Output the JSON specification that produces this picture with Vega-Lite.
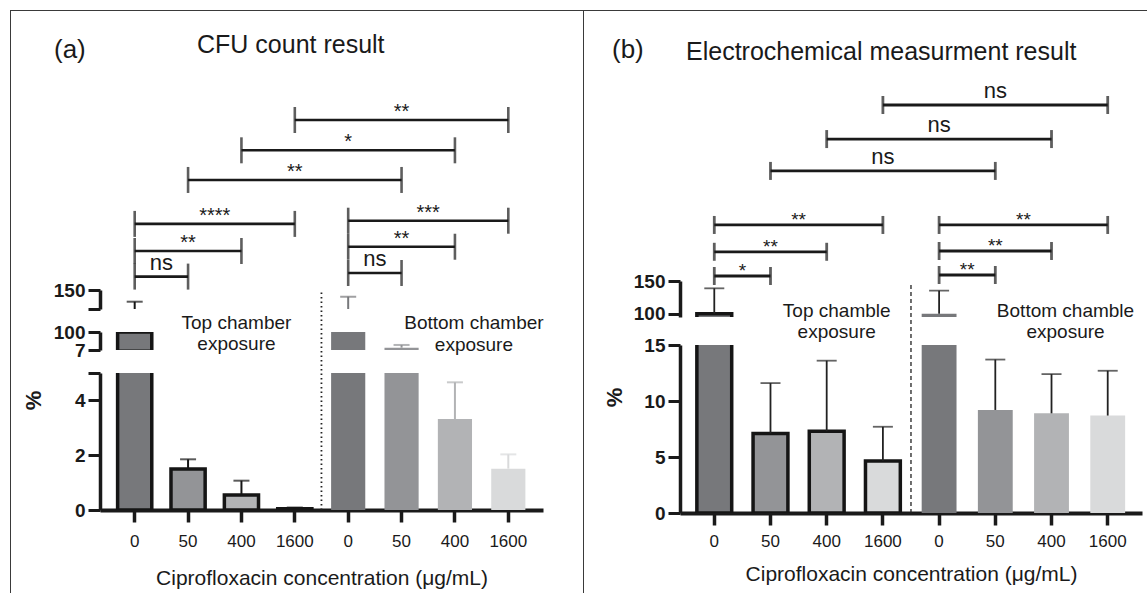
{
  "$schema": "https://vega.github.io/schema/vega-lite/v6.json",
  "padding": {"left": 10, "top": 10, "right": 0, "bottom": 0},
  "background": "white",
  "config": {
    "font": "Liberation Sans",
    "view": {"stroke": null},
    "axis": {"grid": false, "domainColor": "#1a1a1a", "domainWidth": 3.5, "tickColor": "#1a1a1a", "tickWidth": 3, "tickSize": 12, "labelColor": "#1a1a1a", "labelFont": "Liberation Sans", "labelOverlap": false, "labelBound": false, "labelFlush": false, "titleColor": "#1a1a1a", "titleFont": "Liberation Sans"},
    "axisY": {"labelFontSize": 19, "labelFontWeight": "bold", "labelPadding": 3},
    "axisX": {"labelFontSize": 17, "labelFontWeight": "normal", "labelAngle": 0, "labelPadding": 11, "titleFontSize": 21, "titleFontWeight": "normal", "titlePadding": 14, "tickWidth": 3.5},
    "title": {"font": "Liberation Sans", "fontWeight": "normal", "color": "#1a1a1a"},
    "text": {"font": "Liberation Sans", "color": "#1a1a1a"}
  },
  "datasets": {
    "barsA": [
      {"chamber": "Top", "conc": "0", "bar": "Top 0", "mean": 100, "upper": 134.6},
      {"chamber": "Top", "conc": "50", "bar": "Top 50", "mean": 1.5, "upper": 1.85},
      {"chamber": "Top", "conc": "400", "bar": "Top 400", "mean": 0.55, "upper": 1.07},
      {"chamber": "Top", "conc": "1600", "bar": "Top 1600", "mean": 0.05, "upper": 0.09},
      {"chamber": "Bottom", "conc": "0", "bar": "Bottom 0", "mean": 100, "upper": 141.2},
      {"chamber": "Bottom", "conc": "50", "bar": "Bottom 50", "mean": 19, "upper": 33},
      {"chamber": "Bottom", "conc": "400", "bar": "Bottom 400", "mean": 3.32, "upper": 4.66},
      {"chamber": "Bottom", "conc": "1600", "bar": "Bottom 1600", "mean": 1.51, "upper": 2.03}
    ],
    "barsB": [
      {"chamber": "Top", "conc": "0", "bar": "Top 0", "mean": 100, "upper": 138.8},
      {"chamber": "Top", "conc": "50", "bar": "Top 50", "mean": 7.1, "upper": 11.6},
      {"chamber": "Top", "conc": "400", "bar": "Top 400", "mean": 7.3, "upper": 13.6},
      {"chamber": "Top", "conc": "1600", "bar": "Top 1600", "mean": 4.65, "upper": 7.7},
      {"chamber": "Bottom", "conc": "0", "bar": "Bottom 0", "mean": 100, "upper": 135.2},
      {"chamber": "Bottom", "conc": "50", "bar": "Bottom 50", "mean": 9.2, "upper": 13.7},
      {"chamber": "Bottom", "conc": "400", "bar": "Bottom 400", "mean": 8.9, "upper": 12.4},
      {"chamber": "Bottom", "conc": "1600", "bar": "Bottom 1600", "mean": 8.7, "upper": 12.7}
    ],
    "bracketsA": [
      {"from": "Top 0", "to": "Top 50", "level": 0.55, "label": "ns", "at": "Top 0", "onBar": false},
      {"from": "Top 0", "to": "Top 400", "level": 1.75, "label": "**", "at": "Top 50", "onBar": true},
      {"from": "Top 0", "to": "Top 1600", "level": 3.02, "label": "****", "at": "Top 50", "onBar": false},
      {"from": "Bottom 0", "to": "Bottom 50", "level": 0.72, "label": "ns", "at": "Bottom 0", "onBar": false},
      {"from": "Bottom 0", "to": "Bottom 400", "level": 1.95, "label": "**", "at": "Bottom 50", "onBar": true},
      {"from": "Bottom 0", "to": "Bottom 1600", "level": 3.17, "label": "***", "at": "Bottom 50", "onBar": false},
      {"from": "Top 50", "to": "Bottom 50", "level": 5.08, "label": "**", "at": "Top 1600", "onBar": true},
      {"from": "Top 400", "to": "Bottom 400", "level": 6.47, "label": "*", "at": "Bottom 0", "onBar": true},
      {"from": "Top 1600", "to": "Bottom 1600", "level": 7.89, "label": "**", "at": "Bottom 50", "onBar": true}
    ],
    "bracketsB": [
      {"from": "Top 0", "to": "Top 50", "level": 0.86, "label": "*", "at": "Top 0", "onBar": false},
      {"from": "Top 0", "to": "Top 400", "level": 2.06, "label": "**", "at": "Top 50", "onBar": true},
      {"from": "Top 0", "to": "Top 1600", "level": 3.39, "label": "**", "at": "Top 50", "onBar": false},
      {"from": "Bottom 0", "to": "Bottom 50", "level": 0.91, "label": "**", "at": "Bottom 0", "onBar": false},
      {"from": "Bottom 0", "to": "Bottom 400", "level": 2.10, "label": "**", "at": "Bottom 50", "onBar": true},
      {"from": "Bottom 0", "to": "Bottom 1600", "level": 3.39, "label": "**", "at": "Bottom 50", "onBar": false},
      {"from": "Top 50", "to": "Bottom 50", "level": 6.07, "label": "ns", "at": "Top 1600", "onBar": true},
      {"from": "Top 400", "to": "Bottom 400", "level": 7.65, "label": "ns", "at": "Bottom 0", "onBar": true},
      {"from": "Top 1600", "to": "Bottom 1600", "level": 9.34, "label": "ns", "at": "Bottom 50", "onBar": true}
    ]
  },
  "spacing": 0,
  "vconcat": [
    {"width": 1137, "height": 1, "view": {"fill": "#3a3a3a", "stroke": null}, "data": {"values": [{}]}, "mark": {"type": "point", "size": 0, "opacity": 0, "strokeWidth": 0}, "encoding": {}},
    {
      "spacing": 39,
      "hconcat": [
        {
          "spacing": 11,
          "hconcat": [
            {"width": 1, "height": 582, "view": {"fill": "#3a3a3a", "stroke": null}, "data": {"values": [{}]}, "mark": {"type": "point", "size": 0, "opacity": 0, "strokeWidth": 0}, "encoding": {}},
            {
              "title": {"text": "(a)", "anchor": "start", "frame": "group", "dx": -46, "offset": -73, "baseline": "alphabetic", "fontSize": 26},
              "bounds": "flush",
              "spacing": 23,
              "vconcat": [
                {
                  "width": 443, "height": 256,
                  "title": {"text": "CFU count result", "anchor": "start", "frame": "group", "dx": 97, "offset": -67, "baseline": "alphabetic", "fontSize": 25},
                  "data": {"name": "bracketsA"},
                  "layer": [
                    {"mark": {"type": "rule", "strokeWidth": 2.6, "color": "#1a1a1a"},
                     "encoding": {
                       "x": {"field": "from", "type": "nominal", "scale": {"domain": ["Top 0", "Top 50", "Top 400", "Top 1600", "Bottom 0", "Bottom 50", "Bottom 400", "Bottom 1600"], "paddingInner": 0.36, "paddingOuter": 0.33}, "axis": null},
                       "x2": {"field": "to"},
                       "y": {"field": "level", "type": "quantitative", "scale": {"domain": [1, 13], "nice": false, "zero": false}, "axis": null}}},
                    {"mark": {"type": "tick", "orient": "vertical", "size": 26, "thickness": 2.6, "color": "#1a1a1a"},
                     "encoding": {"x": {"field": "from", "type": "nominal"}, "y": {"field": "level", "type": "quantitative"}}},
                    {"mark": {"type": "tick", "orient": "vertical", "size": 26, "thickness": 2.6, "color": "#1a1a1a"},
                     "encoding": {"x": {"field": "to", "type": "nominal"}, "y": {"field": "level", "type": "quantitative"}}},
                    {"transform": [{"filter": "datum.onBar"}],
                     "mark": {"type": "text", "baseline": "alphabetic", "align": "center", "dy": {"expr": "datum.label === 'ns' ? -7 : -2"}},
                     "encoding": {"x": {"field": "at", "type": "nominal"}, "y": {"field": "level", "type": "quantitative"}, "text": {"field": "label"},
                       "size": {"condition": {"test": "datum.label === 'ns'", "value": 22}, "value": 20}}},
                    {"transform": [{"filter": "!datum.onBar"}],
                     "mark": {"type": "text", "baseline": "alphabetic", "align": "center", "dy": {"expr": "datum.label === 'ns' ? -7 : -2"}},
                     "encoding": {"x": {"field": "at", "type": "nominal", "bandPosition": 1.28}, "y": {"field": "level", "type": "quantitative"}, "text": {"field": "label"},
                       "size": {"condition": {"test": "datum.label === 'ns'", "value": 22}, "value": 20}}}
                  ]
                },
                {
                  "width": 443, "height": 19, "data": {"name": "barsA"},
                  "layer": [
                    {"transform": [{"filter": "datum.mean > 125"}],
                     "mark": {"type": "bar", "clip": true, "stroke": "#151515"},
                     "encoding": {
                       "x": {"field": "bar", "type": "nominal", "scale": {"domain": ["Top 0", "Top 50", "Top 400", "Top 1600", "Bottom 0", "Bottom 50", "Bottom 400", "Bottom 1600"], "paddingInner": 0.36, "paddingOuter": 0.33}, "axis": null},
                       "y": {"field": "mean", "type": "quantitative", "scale": {"domain": [125, 150], "nice": false, "zero": false}, "axis": {"title": null, "values": [125, 150], "labelExpr": "datum.value == 150 ? datum.label : ''"}},
                       "color": {"field": "conc", "type": "nominal", "scale": {"domain": ["0", "50", "400", "1600"], "range": ["#77787b", "#939497", "#b2b3b5", "#d9dadb"]}, "legend": null},
                       "strokeWidth": {"condition": {"test": "datum.chamber === 'Top'", "value": 3.5}, "value": 0}}},
                    {"mark": {"type": "rule", "clip": true, "strokeWidth": 2},
                     "encoding": {"x": {"field": "bar", "type": "nominal"}, "y": {"field": "mean", "type": "quantitative"}, "y2": {"field": "upper"},
                       "color": {"condition": {"test": "datum.chamber === 'Top'", "value": "#151515"}, "field": "conc", "type": "nominal", "legend": null}}},
                    {"mark": {"type": "tick", "clip": true, "thickness": 2, "size": 16},
                     "encoding": {"x": {"field": "bar", "type": "nominal"}, "y": {"field": "upper", "type": "quantitative"},
                       "color": {"condition": {"test": "datum.chamber === 'Top'", "value": "#151515"}, "field": "conc", "type": "nominal", "legend": null}}}
                  ]
                },
                {
                  "width": 443, "height": 18, "data": {"name": "barsA"},
                  "layer": [
                    {"transform": [{"filter": "datum.mean > 7"}],
                     "mark": {"type": "bar", "clip": true, "stroke": "#151515"},
                     "encoding": {
                       "x": {"field": "bar", "type": "nominal", "scale": {"domain": ["Top 0", "Top 50", "Top 400", "Top 1600", "Bottom 0", "Bottom 50", "Bottom 400", "Bottom 1600"], "paddingInner": 0.36, "paddingOuter": 0.33}, "axis": null},
                       "y": {"field": "mean", "type": "quantitative", "scale": {"domain": [7, 100], "nice": false, "zero": false}, "axis": {"title": null, "values": [7, 100]}},
                       "color": {"field": "conc", "type": "nominal", "scale": {"domain": ["0", "50", "400", "1600"], "range": ["#77787b", "#939497", "#b2b3b5", "#d9dadb"]}, "legend": null},
                       "strokeWidth": {"condition": {"test": "datum.chamber === 'Top'", "value": 3.5}, "value": 0}}},
                    {"mark": {"type": "rule", "clip": true, "strokeWidth": 2},
                     "encoding": {"x": {"field": "bar", "type": "nominal"}, "y": {"field": "mean", "type": "quantitative"}, "y2": {"field": "upper"},
                       "color": {"condition": {"test": "datum.chamber === 'Top'", "value": "#151515"}, "field": "conc", "type": "nominal", "legend": null}}},
                    {"mark": {"type": "tick", "clip": true, "thickness": 2, "size": 16},
                     "encoding": {"x": {"field": "bar", "type": "nominal"}, "y": {"field": "upper", "type": "quantitative"},
                       "color": {"condition": {"test": "datum.chamber === 'Top'", "value": "#151515"}, "field": "conc", "type": "nominal", "legend": null}}},
                    {"data": {"values": [{}]},
                     "mark": {"type": "text", "text": ["Top chamber", "exposure"], "fontSize": 19, "lineHeight": 21, "baseline": "alphabetic", "align": "center", "dx": -5, "dy": -3},
                     "encoding": {"x": {"datum": "Top 400", "type": "nominal"}, "y": {"datum": 100, "type": "quantitative"}}},
                    {"data": {"values": [{}]},
                     "mark": {"type": "text", "text": ["Bottom chamber", "exposure"], "fontSize": 19, "lineHeight": 22, "baseline": "alphabetic", "align": "center", "dx": 19, "dy": -3},
                     "encoding": {"x": {"datum": "Bottom 400", "type": "nominal"}, "y": {"datum": 100, "type": "quantitative"}}}
                  ]
                },
                {
                  "width": 443, "height": 137, "data": {"name": "barsA"},
                  "layer": [
                    {"mark": {"type": "bar", "clip": true, "stroke": "#151515"},
                     "encoding": {
                       "x": {"field": "bar", "type": "nominal", "scale": {"domain": ["Top 0", "Top 50", "Top 400", "Top 1600", "Bottom 0", "Bottom 50", "Bottom 400", "Bottom 1600"], "paddingInner": 0.36, "paddingOuter": 0.33},
                         "axis": {"title": "Ciprofloxacin concentration (μg/mL)", "labelExpr": "split(datum.label, ' ')[1]", "domainWidth": 4, "titlePadding": 18}},
                       "y": {"field": "mean", "type": "quantitative", "scale": {"domain": [0, 5], "nice": false}, "axis": {"title": "%", "values": [0, 2, 4, 5], "labelExpr": "datum.value == 5 ? '' : datum.label", "titleX": -67, "titleY": 27, "titleAngle": -90, "titleAlign": "center", "titleBaseline": "middle", "titleFontSize": 22, "titleFontWeight": "bold"}},
                       "color": {"field": "conc", "type": "nominal", "scale": {"domain": ["0", "50", "400", "1600"], "range": ["#77787b", "#939497", "#b2b3b5", "#d9dadb"]}, "legend": null},
                       "strokeWidth": {"condition": {"test": "datum.chamber === 'Top'", "value": 3.5}, "value": 0}}},
                    {"mark": {"type": "rule", "clip": true, "strokeWidth": 2},
                     "encoding": {"x": {"field": "bar", "type": "nominal"}, "y": {"field": "mean", "type": "quantitative"}, "y2": {"field": "upper"},
                       "color": {"condition": {"test": "datum.chamber === 'Top'", "value": "#151515"}, "field": "conc", "type": "nominal", "legend": null}}},
                    {"mark": {"type": "tick", "clip": true, "thickness": 2, "size": 16},
                     "encoding": {"x": {"field": "bar", "type": "nominal"}, "y": {"field": "upper", "type": "quantitative"},
                       "color": {"condition": {"test": "datum.chamber === 'Top'", "value": "#151515"}, "field": "conc", "type": "nominal", "legend": null}}},
                    {"data": {"values": [{}]},
                     "mark": {"type": "rule", "strokeDash": [1.5, 3], "strokeWidth": 1.8, "color": "#222222"},
                     "encoding": {"x": {"datum": "Top 1600", "type": "nominal", "bandPosition": 1.28}, "y": {"datum": 0, "type": "quantitative"}, "y2": {"datum": 8}}}
                  ]
                }
              ]
            }
          ]
        },
        {
          "spacing": 19,
          "hconcat": [
            {"width": 1, "height": 582, "view": {"fill": "#3a3a3a", "stroke": null}, "data": {"values": [{}]}, "mark": {"type": "point", "size": 0, "opacity": 0, "strokeWidth": 0}, "encoding": {}},
            {
              "title": {"text": "(b)", "anchor": "start", "frame": "group", "dx": -68, "offset": -73, "baseline": "alphabetic", "fontSize": 26},
              "bounds": "flush",
              "spacing": 28,
              "vconcat": [
                {
                  "width": 462, "height": 242,
                  "title": {"text": "Electrochemical measurment result", "anchor": "start", "frame": "group", "dx": 6, "offset": -74, "baseline": "alphabetic", "fontSize": 25},
                  "data": {"name": "bracketsB"},
                  "layer": [
                    {"mark": {"type": "rule", "strokeWidth": 2.8, "color": "#1a1a1a"},
                     "encoding": {
                       "x": {"field": "from", "type": "nominal", "scale": {"domain": ["Top 0", "Top 50", "Top 400", "Top 1600", "Bottom 0", "Bottom 50", "Bottom 400", "Bottom 1600"], "paddingInner": 0.38, "paddingOuter": 0.3}, "axis": null},
                       "x2": {"field": "to"},
                       "y": {"field": "level", "type": "quantitative", "scale": {"domain": [2, 14], "nice": false, "zero": false}, "axis": null}}},
                    {"mark": {"type": "tick", "orient": "vertical", "size": 18, "thickness": 2.8, "color": "#1a1a1a"},
                     "encoding": {"x": {"field": "from", "type": "nominal"}, "y": {"field": "level", "type": "quantitative"}}},
                    {"mark": {"type": "tick", "orient": "vertical", "size": 18, "thickness": 2.8, "color": "#1a1a1a"},
                     "encoding": {"x": {"field": "to", "type": "nominal"}, "y": {"field": "level", "type": "quantitative"}}},
                    {"transform": [{"filter": "datum.onBar"}],
                     "mark": {"type": "text", "baseline": "alphabetic", "align": "center", "dy": {"expr": "datum.label === 'ns' ? -7 : 1"}},
                     "encoding": {"x": {"field": "at", "type": "nominal"}, "y": {"field": "level", "type": "quantitative"}, "text": {"field": "label"},
                       "size": {"condition": {"test": "datum.label === 'ns'", "value": 22}, "value": 19}}},
                    {"transform": [{"filter": "!datum.onBar"}],
                     "mark": {"type": "text", "baseline": "alphabetic", "align": "center", "dy": {"expr": "datum.label === 'ns' ? -7 : 1"}},
                     "encoding": {"x": {"field": "at", "type": "nominal", "bandPosition": 1.306}, "y": {"field": "level", "type": "quantitative"}, "text": {"field": "label"},
                       "size": {"condition": {"test": "datum.label === 'ns'", "value": 22}, "value": 19}}}
                  ]
                },
                {
                  "width": 462, "height": 36, "data": {"name": "barsB"},
                  "layer": [
                    {"transform": [{"filter": "datum.mean > 95"}],
                     "mark": {"type": "bar", "clip": true, "stroke": "#151515"},
                     "encoding": {
                       "x": {"field": "bar", "type": "nominal", "scale": {"domain": ["Top 0", "Top 50", "Top 400", "Top 1600", "Bottom 0", "Bottom 50", "Bottom 400", "Bottom 1600"], "paddingInner": 0.38, "paddingOuter": 0.3}, "axis": null},
                       "y": {"field": "mean", "type": "quantitative", "scale": {"domain": [95, 150], "nice": false, "zero": false}, "axis": {"title": null, "values": [100, 150], "labelOverlap": false}},
                       "color": {"field": "conc", "type": "nominal", "scale": {"domain": ["0", "50", "400", "1600"], "range": ["#77787b", "#939497", "#b2b3b5", "#d9dadb"]}, "legend": null},
                       "strokeWidth": {"condition": {"test": "datum.chamber === 'Top'", "value": 3.5}, "value": 0}}},
                    {"mark": {"type": "rule", "clip": true, "strokeWidth": 1.8, "color": "#222222"},
                     "encoding": {"x": {"field": "bar", "type": "nominal"}, "y": {"field": "mean", "type": "quantitative"}, "y2": {"field": "upper"}}},
                    {"mark": {"type": "tick", "clip": true, "thickness": 1.8, "size": 20, "color": "#222222"},
                     "encoding": {"x": {"field": "bar", "type": "nominal"}, "y": {"field": "upper", "type": "quantitative"}}},
                    {"data": {"values": [{}]},
                     "mark": {"type": "text", "text": ["Top chamble", "exposure"], "fontSize": 19, "lineHeight": 21, "baseline": "alphabetic", "align": "center", "dx": 10, "dy": 0},
                     "encoding": {"x": {"datum": "Top 400", "type": "nominal"}, "y": {"datum": 95, "type": "quantitative"}}},
                    {"data": {"values": [{}]},
                     "mark": {"type": "text", "text": ["Bottom chamble", "exposure"], "fontSize": 19, "lineHeight": 21, "baseline": "alphabetic", "align": "center", "dx": 14, "dy": 0},
                     "encoding": {"x": {"datum": "Bottom 400", "type": "nominal"}, "y": {"datum": 95, "type": "quantitative"}}}
                  ]
                },
                {
                  "width": 462, "height": 168, "data": {"name": "barsB"},
                  "layer": [
                    {"mark": {"type": "bar", "clip": true, "stroke": "#151515"},
                     "encoding": {
                       "x": {"field": "bar", "type": "nominal", "scale": {"domain": ["Top 0", "Top 50", "Top 400", "Top 1600", "Bottom 0", "Bottom 50", "Bottom 400", "Bottom 1600"], "paddingInner": 0.38, "paddingOuter": 0.3},
                         "axis": {"title": "Ciprofloxacin concentration (μg/mL)", "labelExpr": "split(datum.label, ' ')[1]", "domainWidth": 4, "labelPadding": 8, "titlePadding": 14}},
                       "y": {"field": "mean", "type": "quantitative", "scale": {"domain": [0, 15], "nice": false}, "axis": {"title": "%", "values": [0, 2.5, 5, 7.5, 10, 12.5, 15], "labelExpr": "datum.value % 5 === 0 ? datum.label : ''", "tickSize": {"condition": {"test": "datum.value % 5 === 0", "value": 12}, "value": 7}, "titleX": -66, "titleY": 52, "titleAngle": -90, "titleAlign": "center", "titleBaseline": "middle", "titleFontSize": 22, "titleFontWeight": "bold"}},
                       "color": {"field": "conc", "type": "nominal", "scale": {"domain": ["0", "50", "400", "1600"], "range": ["#77787b", "#939497", "#b2b3b5", "#d9dadb"]}, "legend": null},
                       "strokeWidth": {"condition": {"test": "datum.chamber === 'Top'", "value": 3.5}, "value": 0}}},
                    {"mark": {"type": "rule", "clip": true, "strokeWidth": 1.8, "color": "#222222"},
                     "encoding": {"x": {"field": "bar", "type": "nominal"}, "y": {"field": "mean", "type": "quantitative"}, "y2": {"field": "upper"}}},
                    {"mark": {"type": "tick", "clip": true, "thickness": 1.8, "size": 20, "color": "#222222"},
                     "encoding": {"x": {"field": "bar", "type": "nominal"}, "y": {"field": "upper", "type": "quantitative"}}},
                    {"data": {"values": [{}]},
                     "mark": {"type": "rule", "strokeDash": [4, 3], "strokeWidth": 1.3, "color": "#222222"},
                     "encoding": {"x": {"datum": "Top 1600", "type": "nominal", "bandPosition": 1.306}, "y": {"datum": 0, "type": "quantitative"}, "y2": {"datum": 20.6}}}
                  ]
                }
              ]
            }
          ]
        }
      ]
    }
  ]
}
